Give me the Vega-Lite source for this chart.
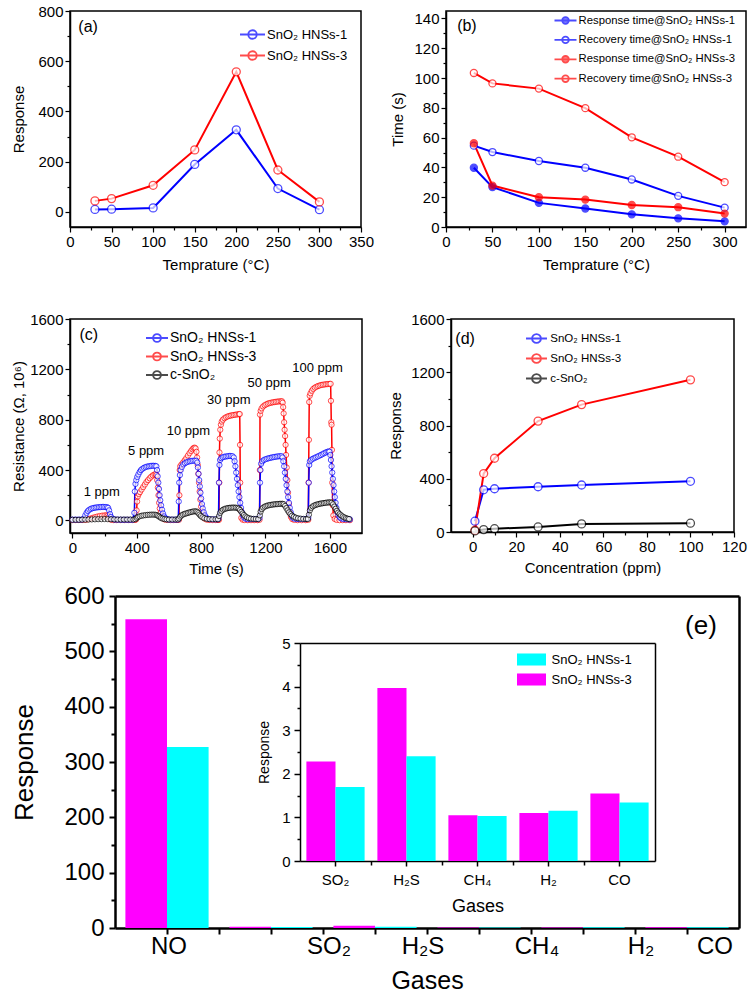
{
"$schema": "https://vega.github.io/schema/vega-lite/v6.json",
"padding": {"left": 10, "top": 3, "right": 0, "bottom": 0},
"config": {
 "font": "Liberation Sans",
 "numberFormat": "d",
 "view": {"stroke": "#000", "strokeWidth": 1.5},
 "axis": {"grid": false, "domainColor": "#000", "domainWidth": 1.5, "tickColor": "#000", "tickWidth": 1.2, "tickSize": 5, "labelColor": "#000", "labelFontSize": 15, "labelPadding": 2, "labelFlush": false, "labelOverlap": false, "titleColor": "#000", "titleFontSize": 15, "titleFontWeight": "normal"},
 "legend": {"labelColor": "#000", "padding": 0, "labelLimit": 400},
 "text": {"color": "#000"}
},
"datasets": {
 "gas": [
  {"gas":"NO","series":"SnO₂ HNSs-3","response":558},{"gas":"NO","series":"SnO₂ HNSs-1","response":327},
  {"gas":"SO₂","series":"SnO₂ HNSs-3","response":2.28},{"gas":"SO₂","series":"SnO₂ HNSs-1","response":1.7},
  {"gas":"H₂S","series":"SnO₂ HNSs-3","response":3.97},{"gas":"H₂S","series":"SnO₂ HNSs-1","response":2.4},
  {"gas":"CH₄","series":"SnO₂ HNSs-3","response":1.05},{"gas":"CH₄","series":"SnO₂ HNSs-1","response":1.03},
  {"gas":"H₂","series":"SnO₂ HNSs-3","response":1.1},{"gas":"H₂","series":"SnO₂ HNSs-1","response":1.15},
  {"gas":"CO","series":"SnO₂ HNSs-3","response":1.55},{"gas":"CO","series":"SnO₂ HNSs-1","response":1.34}
 ]
},
"spacing": 7,
"align": "none",
"resolve": {"scale": {"stroke": "independent", "fill": "independent", "color": "independent"}, "legend": {"stroke": "independent", "fill": "independent", "color": "independent"}},
"vconcat": [
 {"spacing": 38,
  "align": "none",
  "resolve": {"scale": {"stroke": "independent", "fill": "independent", "color": "independent"}, "legend": {"stroke": "independent", "fill": "independent", "color": "independent"}},
  "vconcat": [
  {"spacing": 15,
   "align": "none",
   "resolve": {"scale": {"stroke": "independent", "fill": "independent", "color": "independent"}, "legend": {"stroke": "independent", "fill": "independent", "color": "independent"}},
   "hconcat": [
   {
    "width": 291, "height": 216,
    "data": {"values": [
     {"series":"SnO₂ HNSs-1","temp":30,"response":10},{"series":"SnO₂ HNSs-1","temp":50,"response":11},{"series":"SnO₂ HNSs-1","temp":100,"response":16},{"series":"SnO₂ HNSs-1","temp":150,"response":189},{"series":"SnO₂ HNSs-1","temp":200,"response":327},{"series":"SnO₂ HNSs-1","temp":250,"response":93},{"series":"SnO₂ HNSs-1","temp":300,"response":9},
     {"series":"SnO₂ HNSs-3","temp":30,"response":44},{"series":"SnO₂ HNSs-3","temp":50,"response":53},{"series":"SnO₂ HNSs-3","temp":100,"response":106},{"series":"SnO₂ HNSs-3","temp":150,"response":247},{"series":"SnO₂ HNSs-3","temp":200,"response":558},{"series":"SnO₂ HNSs-3","temp":250,"response":167},{"series":"SnO₂ HNSs-3","temp":300,"response":40}
    ]},
    "layer": [
     {"encoding": {
       "x": {"field":"temp","type":"quantitative","scale":{"domain":[0,350],"nice":false,"zero":false},"axis":{"values":[0,50,100,150,200,250,300,350],"title":"Temprature (°C)","titlePadding":8}},
       "y": {"field":"response","type":"quantitative","scale":{"domain":[-60,800],"nice":false,"zero":false},"axis":{"values":[0,200,400,600,800],"title":"Response","titlePadding":11}}
      },
      "layer": [
       {"mark":{"type":"line","strokeWidth":2},"encoding":{"stroke":{"field":"series","type":"nominal","scale":{"domain":["SnO₂ HNSs-1","SnO₂ HNSs-3"],"range":["#0000ff","#ff0000"]},"legend":{"title":null,"orient":"none","legendX":175,"legendY":16,"symbolType":"M-2,0H2M-0.68,0A0.68,0.68 0 1,0 0.68,0A0.68,0.68 0 1,0 -0.68,0","symbolSize":156,"symbolStrokeWidth":1.8,"symbolFillColor":"#fff","labelFontSize":13,"labelOffset":7,"rowPadding":4}}}},
       {"mark":{"type":"point","shape":"circle","filled":true,"fill":"#fff","size":64,"strokeWidth":1.3},"encoding":{"stroke":{"field":"series","type":"nominal"}}},
       {"data":{"values":[{"label":"(a)","temp":10,"response":735}]},"mark":{"type":"text","align":"left","baseline":"middle","fontSize":16},"encoding":{"text":{"field":"label","type":"nominal"}}}
      ]},
     {"data":{"values":[{"mx":0,"my":0}]},"mark":{"type":"point","opacity":0},"encoding":{
       "x":{"field":"mx","type":"quantitative","scale":{"domain":[0,350],"nice":false,"zero":false},"axis":{"orient":"bottom","values":[25,75,125,175,225,275,325],"labels":false,"domain":false,"title":null,"tickSize":3}},
       "y":{"field":"my","type":"quantitative","scale":{"domain":[-60,800],"nice":false,"zero":false},"axis":{"orient":"left","values":[100,300,500,700],"labels":false,"domain":false,"title":null,"tickSize":3}}
     }}
    ],
    "resolve": {"scale": {"x": "independent", "y": "independent"}}
   },
   {
    "width": 300, "height": 216,
    "data": {"values": [
     {"series":"Response time@SnO₂ HNSs-1","temp":30,"time":39.8},{"series":"Response time@SnO₂ HNSs-1","temp":50,"time":26.8},{"series":"Response time@SnO₂ HNSs-1","temp":100,"time":16.2},{"series":"Response time@SnO₂ HNSs-1","temp":150,"time":12.4},{"series":"Response time@SnO₂ HNSs-1","temp":200,"time":8.5},{"series":"Response time@SnO₂ HNSs-1","temp":250,"time":5.8},{"series":"Response time@SnO₂ HNSs-1","temp":300,"time":3.8},
     {"series":"Recovery time@SnO₂ HNSs-1","temp":30,"time":54.6},{"series":"Recovery time@SnO₂ HNSs-1","temp":50,"time":50.3},{"series":"Recovery time@SnO₂ HNSs-1","temp":100,"time":44.3},{"series":"Recovery time@SnO₂ HNSs-1","temp":150,"time":39.8},{"series":"Recovery time@SnO₂ HNSs-1","temp":200,"time":31.9},{"series":"Recovery time@SnO₂ HNSs-1","temp":250,"time":20.9},{"series":"Recovery time@SnO₂ HNSs-1","temp":300,"time":13},
     {"series":"Response time@SnO₂ HNSs-3","temp":30,"time":56.2},{"series":"Response time@SnO₂ HNSs-3","temp":50,"time":27.8},{"series":"Response time@SnO₂ HNSs-3","temp":100,"time":20},{"series":"Response time@SnO₂ HNSs-3","temp":150,"time":18.4},{"series":"Response time@SnO₂ HNSs-3","temp":200,"time":14.8},{"series":"Response time@SnO₂ HNSs-3","temp":250,"time":13.3},{"series":"Response time@SnO₂ HNSs-3","temp":300,"time":9},
     {"series":"Recovery time@SnO₂ HNSs-3","temp":30,"time":103.4},{"series":"Recovery time@SnO₂ HNSs-3","temp":50,"time":96.4},{"series":"Recovery time@SnO₂ HNSs-3","temp":100,"time":92.9},{"series":"Recovery time@SnO₂ HNSs-3","temp":150,"time":79.8},{"series":"Recovery time@SnO₂ HNSs-3","temp":200,"time":60.2},{"series":"Recovery time@SnO₂ HNSs-3","temp":250,"time":47.2},{"series":"Recovery time@SnO₂ HNSs-3","temp":300,"time":30.1}
    ]},
    "layer": [
     {"encoding": {
       "x": {"field":"temp","type":"quantitative","scale":{"domain":[0,323],"nice":false,"zero":false},"axis":{"values":[0,50,100,150,200,250,300],"title":"Temprature (°C)","titlePadding":8}},
       "y": {"field":"time","type":"quantitative","scale":{"domain":[0,145],"nice":false},"axis":{"values":[0,20,40,60,80,100,120,140],"title":"Time (s)","titlePadding":8}}
      },
      "layer": [
       {"mark":{"type":"line","strokeWidth":2},"encoding":{"stroke":{"field":"series","type":"nominal","scale":{"domain":["Response time@SnO₂ HNSs-1","Recovery time@SnO₂ HNSs-1","Response time@SnO₂ HNSs-3","Recovery time@SnO₂ HNSs-3"],"range":["#0000ff","#0000ff","#ff0000","#ff0000"]},"legend":{"title":null,"orient":"none","legendX":113,"legendY":3,"symbolType":"M-2,0H2M-0.6,0A0.6,0.6 0 1,0 0.6,0A0.6,0.6 0 1,0 -0.6,0","symbolSize":121,"symbolStrokeWidth":1.8,"labelFontSize":11.3,"labelOffset":6.6,"rowPadding":4.4,"labelLimit":400}}}},
       {"mark":{"type":"point","shape":"circle","filled":true,"size":50,"strokeWidth":1.3},"encoding":{"stroke":{"field":"series","type":"nominal"},"fill":{"field":"series","type":"nominal","scale":{"domain":["Response time@SnO₂ HNSs-1","Recovery time@SnO₂ HNSs-1","Response time@SnO₂ HNSs-3","Recovery time@SnO₂ HNSs-3"],"range":["#0000ff","#ffffff","#ff0000","#ffffff"]}}}},
       {"data":{"values":[{"label":"(b)","temp":12,"time":135}]},"mark":{"type":"text","align":"left","baseline":"middle","fontSize":16},"encoding":{"text":{"field":"label","type":"nominal"}}}
      ]},
     {"data":{"values":[{"mx":0,"my":0}]},"mark":{"type":"point","opacity":0},"encoding":{
       "x":{"field":"mx","type":"quantitative","scale":{"domain":[0,323],"nice":false,"zero":false},"axis":{"orient":"bottom","values":[25,75,125,175,225,275],"labels":false,"domain":false,"title":null,"tickSize":3}},
       "y":{"field":"my","type":"quantitative","scale":{"domain":[0,145],"nice":false,"zero":false},"axis":{"orient":"left","values":[10,30,50,70,90,110,130],"labels":false,"domain":false,"title":null,"tickSize":3}}
     }}
    ],
    "resolve": {"scale": {"x": "independent", "y": "independent"}}
   }
  ]},
  {"spacing": 24,
   "align": "none",
   "resolve": {"scale": {"stroke": "independent", "fill": "independent", "color": "independent"}, "legend": {"stroke": "independent", "fill": "independent", "color": "independent"}},
   "hconcat": [
   {
    "width": 292, "height": 214,
    "data": {"values": [
{"s":"3","t":0,"r":3},{"s":"3","t":20,"r":3},{"s":"3","t":40,"r":3},{"s":"3","t":60,"r":3},{"s":"3","t":80,"r":4},{"s":"3","t":95,"r":8},{"s":"3","t":110,"r":14},{"s":"3","t":125,"r":20},{"s":"3","t":140,"r":26},{"s":"3","t":155,"r":31},{"s":"3","t":170,"r":35},{"s":"3","t":185,"r":38},{"s":"3","t":200,"r":40},{"s":"3","t":212,"r":41},{"s":"3","t":220,"r":38},{"s":"3","t":226,"r":28},{"s":"3","t":232,"r":15},{"s":"3","t":240,"r":6},{"s":"3","t":255,"r":3},{"s":"3","t":275,"r":3},{"s":"3","t":300,"r":3},{"s":"3","t":325,"r":3},{"s":"3","t":350,"r":3},{"s":"3","t":375,"r":3},{"s":"3","t":390,"r":4},
{"s":"3","t":396,"r":8},{"s":"3","t":399,"r":80},{"s":"3","t":402,"r":150},{"s":"3","t":406,"r":190},{"s":"3","t":412,"r":210},{"s":"3","t":420,"r":225},{"s":"3","t":430,"r":245},{"s":"3","t":440,"r":265},{"s":"3","t":450,"r":285},{"s":"3","t":460,"r":305},{"s":"3","t":470,"r":320},{"s":"3","t":480,"r":335},{"s":"3","t":490,"r":348},{"s":"3","t":500,"r":358},{"s":"3","t":510,"r":365},{"s":"3","t":518,"r":368},{"s":"3","t":523,"r":360},{"s":"3","t":527,"r":320},{"s":"3","t":531,"r":260},{"s":"3","t":535,"r":200},{"s":"3","t":539,"r":140},{"s":"3","t":543,"r":95},{"s":"3","t":548,"r":60},{"s":"3","t":555,"r":32},{"s":"3","t":563,"r":16},{"s":"3","t":575,"r":7},{"s":"3","t":590,"r":4},{"s":"3","t":610,"r":3},{"s":"3","t":630,"r":3},{"s":"3","t":650,"r":3},
{"s":"3","t":662,"r":5},{"s":"3","t":665,"r":200},{"s":"3","t":667,"r":400},{"s":"3","t":670,"r":430},{"s":"3","t":678,"r":445},{"s":"3","t":688,"r":460},{"s":"3","t":698,"r":478},{"s":"3","t":708,"r":495},{"s":"3","t":718,"r":515},{"s":"3","t":728,"r":535},{"s":"3","t":738,"r":552},{"s":"3","t":746,"r":565},{"s":"3","t":753,"r":575},{"s":"3","t":760,"r":578},{"s":"3","t":766,"r":572},{"s":"3","t":771,"r":545},{"s":"3","t":775,"r":500},{"s":"3","t":779,"r":440},{"s":"3","t":783,"r":370},{"s":"3","t":787,"r":300},{"s":"3","t":791,"r":230},{"s":"3","t":795,"r":165},{"s":"3","t":800,"r":110},{"s":"3","t":806,"r":65},{"s":"3","t":813,"r":35},{"s":"3","t":822,"r":15},{"s":"3","t":835,"r":6},{"s":"3","t":850,"r":4},{"s":"3","t":870,"r":3},{"s":"3","t":890,"r":3},{"s":"3","t":905,"r":3},
{"s":"3","t":911,"r":5},{"s":"3","t":913,"r":300},{"s":"3","t":914,"r":540},{"s":"3","t":916,"r":650},{"s":"3","t":919,"r":720},{"s":"3","t":923,"r":760},{"s":"3","t":928,"r":785},{"s":"3","t":935,"r":800},{"s":"3","t":945,"r":812},{"s":"3","t":955,"r":820},{"s":"3","t":965,"r":826},{"s":"3","t":975,"r":830},{"s":"3","t":985,"r":833},{"s":"3","t":995,"r":836},{"s":"3","t":1005,"r":838},{"s":"3","t":1015,"r":840},{"s":"3","t":1025,"r":842},{"s":"3","t":1035,"r":844},{"s":"3","t":1040,"r":845},{"s":"3","t":1042,"r":600},{"s":"3","t":1043,"r":300},{"s":"3","t":1045,"r":80},{"s":"3","t":1050,"r":20},{"s":"3","t":1058,"r":6},{"s":"3","t":1070,"r":3},{"s":"3","t":1090,"r":2},{"s":"3","t":1110,"r":2},{"s":"3","t":1130,"r":2},{"s":"3","t":1150,"r":2},
{"s":"3","t":1163,"r":5},{"s":"3","t":1165,"r":400},{"s":"3","t":1166,"r":840},{"s":"3","t":1170,"r":870},{"s":"3","t":1176,"r":890},{"s":"3","t":1185,"r":905},{"s":"3","t":1195,"r":915},{"s":"3","t":1205,"r":922},{"s":"3","t":1215,"r":928},{"s":"3","t":1225,"r":932},{"s":"3","t":1235,"r":935},{"s":"3","t":1245,"r":938},{"s":"3","t":1255,"r":940},{"s":"3","t":1265,"r":942},{"s":"3","t":1275,"r":944},{"s":"3","t":1285,"r":945},{"s":"3","t":1295,"r":946},{"s":"3","t":1303,"r":946},{"s":"3","t":1307,"r":935},{"s":"3","t":1310,"r":900},{"s":"3","t":1313,"r":850},{"s":"3","t":1316,"r":780},{"s":"3","t":1319,"r":720},{"s":"3","t":1322,"r":670},{"s":"3","t":1325,"r":600},{"s":"3","t":1328,"r":520},{"s":"3","t":1332,"r":420},{"s":"3","t":1336,"r":320},{"s":"3","t":1340,"r":220},{"s":"3","t":1345,"r":130},{"s":"3","t":1351,"r":65},{"s":"3","t":1358,"r":28},{"s":"3","t":1367,"r":10},{"s":"3","t":1380,"r":4},{"s":"3","t":1400,"r":2},{"s":"3","t":1425,"r":2},{"s":"3","t":1450,"r":2},
{"s":"3","t":1466,"r":5},{"s":"3","t":1468,"r":300},{"s":"3","t":1470,"r":640},{"s":"3","t":1472,"r":940},{"s":"3","t":1475,"r":990},{"s":"3","t":1480,"r":1010},{"s":"3","t":1488,"r":1030},{"s":"3","t":1497,"r":1045},{"s":"3","t":1507,"r":1055},{"s":"3","t":1517,"r":1062},{"s":"3","t":1527,"r":1068},{"s":"3","t":1537,"r":1072},{"s":"3","t":1547,"r":1076},{"s":"3","t":1557,"r":1078},{"s":"3","t":1567,"r":1080},{"s":"3","t":1577,"r":1082},{"s":"3","t":1587,"r":1083},{"s":"3","t":1597,"r":1084},{"s":"3","t":1605,"r":1085},{"s":"3","t":1607,"r":950},{"s":"3","t":1609,"r":780},{"s":"3","t":1611,"r":760},{"s":"3","t":1613,"r":560},{"s":"3","t":1615,"r":300},{"s":"3","t":1618,"r":120},{"s":"3","t":1622,"r":40},{"s":"3","t":1630,"r":12},{"s":"3","t":1642,"r":4},{"s":"3","t":1660,"r":2},{"s":"3","t":1680,"r":2},{"s":"3","t":1700,"r":2},{"s":"3","t":1725,"r":2},
{"s":"1","t":0,"r":6},{"s":"1","t":15,"r":6},{"s":"1","t":30,"r":6},{"s":"1","t":45,"r":6},{"s":"1","t":60,"r":7},{"s":"1","t":72,"r":15},{"s":"1","t":80,"r":40},{"s":"1","t":88,"r":60},{"s":"1","t":96,"r":75},{"s":"1","t":105,"r":85},{"s":"1","t":115,"r":92},{"s":"1","t":125,"r":97},{"s":"1","t":135,"r":100},{"s":"1","t":145,"r":102},{"s":"1","t":155,"r":104},{"s":"1","t":165,"r":105},{"s":"1","t":175,"r":106},{"s":"1","t":185,"r":107},{"s":"1","t":195,"r":107},{"s":"1","t":205,"r":106},{"s":"1","t":215,"r":105},{"s":"1","t":222,"r":100},{"s":"1","t":228,"r":80},{"s":"1","t":234,"r":50},{"s":"1","t":240,"r":28},{"s":"1","t":248,"r":14},{"s":"1","t":258,"r":8},{"s":"1","t":270,"r":6},{"s":"1","t":285,"r":6},{"s":"1","t":300,"r":5},{"s":"1","t":315,"r":5},{"s":"1","t":330,"r":5},{"s":"1","t":345,"r":5},{"s":"1","t":360,"r":5},{"s":"1","t":375,"r":5},
{"s":"1","t":385,"r":60},{"s":"1","t":388,"r":230},{"s":"1","t":392,"r":290},{"s":"1","t":397,"r":320},{"s":"1","t":403,"r":345},{"s":"1","t":410,"r":365},{"s":"1","t":418,"r":385},{"s":"1","t":426,"r":400},{"s":"1","t":435,"r":410},{"s":"1","t":445,"r":418},{"s":"1","t":455,"r":424},{"s":"1","t":465,"r":428},{"s":"1","t":475,"r":430},{"s":"1","t":485,"r":432},{"s":"1","t":495,"r":434},{"s":"1","t":505,"r":434},{"s":"1","t":515,"r":433},{"s":"1","t":522,"r":430},{"s":"1","t":526,"r":400},{"s":"1","t":530,"r":350},{"s":"1","t":534,"r":300},{"s":"1","t":538,"r":250},{"s":"1","t":542,"r":200},{"s":"1","t":546,"r":160},{"s":"1","t":551,"r":120},{"s":"1","t":557,"r":85},{"s":"1","t":563,"r":55},{"s":"1","t":570,"r":32},{"s":"1","t":578,"r":18},{"s":"1","t":588,"r":10},{"s":"1","t":600,"r":7},{"s":"1","t":615,"r":6},{"s":"1","t":630,"r":6},{"s":"1","t":645,"r":6},
{"s":"1","t":658,"r":8},{"s":"1","t":661,"r":150},{"s":"1","t":664,"r":300},{"s":"1","t":668,"r":360},{"s":"1","t":673,"r":400},{"s":"1","t":680,"r":425},{"s":"1","t":690,"r":445},{"s":"1","t":700,"r":455},{"s":"1","t":710,"r":462},{"s":"1","t":720,"r":467},{"s":"1","t":730,"r":470},{"s":"1","t":740,"r":472},{"s":"1","t":750,"r":474},{"s":"1","t":760,"r":475},{"s":"1","t":770,"r":474},{"s":"1","t":776,"r":460},{"s":"1","t":780,"r":420},{"s":"1","t":784,"r":370},{"s":"1","t":788,"r":320},{"s":"1","t":792,"r":270},{"s":"1","t":796,"r":220},{"s":"1","t":800,"r":175},{"s":"1","t":805,"r":130},{"s":"1","t":810,"r":95},{"s":"1","t":816,"r":65},{"s":"1","t":823,"r":40},{"s":"1","t":832,"r":22},{"s":"1","t":845,"r":12},{"s":"1","t":860,"r":9},{"s":"1","t":880,"r":8},{"s":"1","t":900,"r":8},
{"s":"1","t":908,"r":15},{"s":"1","t":911,"r":300},{"s":"1","t":914,"r":440},{"s":"1","t":918,"r":480},{"s":"1","t":925,"r":495},{"s":"1","t":935,"r":502},{"s":"1","t":945,"r":506},{"s":"1","t":955,"r":508},{"s":"1","t":965,"r":510},{"s":"1","t":975,"r":512},{"s":"1","t":985,"r":512},{"s":"1","t":995,"r":510},{"s":"1","t":1003,"r":500},{"s":"1","t":1008,"r":470},{"s":"1","t":1013,"r":430},{"s":"1","t":1018,"r":380},{"s":"1","t":1023,"r":330},{"s":"1","t":1028,"r":280},{"s":"1","t":1033,"r":230},{"s":"1","t":1038,"r":185},{"s":"1","t":1043,"r":140},{"s":"1","t":1048,"r":100},{"s":"1","t":1054,"r":65},{"s":"1","t":1060,"r":40},{"s":"1","t":1068,"r":22},{"s":"1","t":1078,"r":13},{"s":"1","t":1090,"r":10},{"s":"1","t":1110,"r":10},{"s":"1","t":1130,"r":10},{"s":"1","t":1150,"r":10},
{"s":"1","t":1163,"r":20},{"s":"1","t":1166,"r":300},{"s":"1","t":1169,"r":400},{"s":"1","t":1173,"r":450},{"s":"1","t":1180,"r":470},{"s":"1","t":1190,"r":480},{"s":"1","t":1200,"r":486},{"s":"1","t":1210,"r":490},{"s":"1","t":1220,"r":494},{"s":"1","t":1230,"r":497},{"s":"1","t":1240,"r":500},{"s":"1","t":1250,"r":503},{"s":"1","t":1260,"r":505},{"s":"1","t":1270,"r":507},{"s":"1","t":1280,"r":509},{"s":"1","t":1290,"r":510},{"s":"1","t":1300,"r":510},{"s":"1","t":1306,"r":500},{"s":"1","t":1311,"r":470},{"s":"1","t":1316,"r":430},{"s":"1","t":1321,"r":380},{"s":"1","t":1326,"r":330},{"s":"1","t":1331,"r":280},{"s":"1","t":1336,"r":230},{"s":"1","t":1341,"r":185},{"s":"1","t":1346,"r":140},{"s":"1","t":1351,"r":100},{"s":"1","t":1357,"r":65},{"s":"1","t":1363,"r":40},{"s":"1","t":1370,"r":22},{"s":"1","t":1380,"r":14},{"s":"1","t":1395,"r":11},{"s":"1","t":1410,"r":10},{"s":"1","t":1430,"r":10},{"s":"1","t":1450,"r":10},
{"s":"1","t":1466,"r":20},{"s":"1","t":1469,"r":300},{"s":"1","t":1472,"r":440},{"s":"1","t":1476,"r":470},{"s":"1","t":1485,"r":482},{"s":"1","t":1495,"r":490},{"s":"1","t":1505,"r":496},{"s":"1","t":1515,"r":502},{"s":"1","t":1525,"r":508},{"s":"1","t":1535,"r":514},{"s":"1","t":1545,"r":520},{"s":"1","t":1555,"r":527},{"s":"1","t":1565,"r":534},{"s":"1","t":1575,"r":540},{"s":"1","t":1585,"r":545},{"s":"1","t":1593,"r":548},{"s":"1","t":1598,"r":546},{"s":"1","t":1603,"r":520},{"s":"1","t":1607,"r":480},{"s":"1","t":1611,"r":430},{"s":"1","t":1615,"r":380},{"s":"1","t":1619,"r":330},{"s":"1","t":1623,"r":280},{"s":"1","t":1627,"r":230},{"s":"1","t":1631,"r":185},{"s":"1","t":1636,"r":140},{"s":"1","t":1641,"r":100},{"s":"1","t":1647,"r":65},{"s":"1","t":1654,"r":40},{"s":"1","t":1662,"r":24},{"s":"1","t":1672,"r":15},{"s":"1","t":1685,"r":11},{"s":"1","t":1700,"r":9},{"s":"1","t":1715,"r":8},{"s":"1","t":1725,"r":8},
{"s":"c","t":0,"r":5},{"s":"c","t":20,"r":5},{"s":"c","t":40,"r":5},{"s":"c","t":60,"r":6},{"s":"c","t":80,"r":6},{"s":"c","t":100,"r":7},{"s":"c","t":120,"r":8},{"s":"c","t":140,"r":9},{"s":"c","t":160,"r":10},{"s":"c","t":180,"r":10},{"s":"c","t":200,"r":11},{"s":"c","t":220,"r":10},{"s":"c","t":240,"r":9},{"s":"c","t":260,"r":8},{"s":"c","t":280,"r":7},{"s":"c","t":300,"r":7},{"s":"c","t":320,"r":7},{"s":"c","t":340,"r":7},{"s":"c","t":360,"r":7},{"s":"c","t":380,"r":7},{"s":"c","t":392,"r":10},
{"s":"c","t":400,"r":20},{"s":"c","t":408,"r":28},{"s":"c","t":418,"r":33},{"s":"c","t":430,"r":37},{"s":"c","t":442,"r":40},{"s":"c","t":455,"r":42},{"s":"c","t":468,"r":44},{"s":"c","t":480,"r":45},{"s":"c","t":492,"r":46},{"s":"c","t":504,"r":46},{"s":"c","t":515,"r":45},{"s":"c","t":525,"r":42},{"s":"c","t":533,"r":36},{"s":"c","t":541,"r":28},{"s":"c","t":550,"r":20},{"s":"c","t":560,"r":14},{"s":"c","t":572,"r":10},{"s":"c","t":585,"r":8},{"s":"c","t":600,"r":7},{"s":"c","t":620,"r":7},{"s":"c","t":640,"r":7},{"s":"c","t":655,"r":7},
{"s":"c","t":663,"r":15},{"s":"c","t":670,"r":30},{"s":"c","t":678,"r":40},{"s":"c","t":688,"r":47},{"s":"c","t":698,"r":52},{"s":"c","t":708,"r":56},{"s":"c","t":718,"r":60},{"s":"c","t":728,"r":64},{"s":"c","t":738,"r":67},{"s":"c","t":748,"r":70},{"s":"c","t":758,"r":72},{"s":"c","t":768,"r":72},{"s":"c","t":776,"r":68},{"s":"c","t":783,"r":58},{"s":"c","t":790,"r":46},{"s":"c","t":798,"r":35},{"s":"c","t":808,"r":25},{"s":"c","t":820,"r":17},{"s":"c","t":835,"r":12},{"s":"c","t":852,"r":10},{"s":"c","t":870,"r":9},{"s":"c","t":890,"r":9},{"s":"c","t":905,"r":9},
{"s":"c","t":912,"r":35},{"s":"c","t":918,"r":60},{"s":"c","t":926,"r":75},{"s":"c","t":936,"r":85},{"s":"c","t":946,"r":91},{"s":"c","t":956,"r":95},{"s":"c","t":966,"r":98},{"s":"c","t":976,"r":100},{"s":"c","t":986,"r":101},{"s":"c","t":996,"r":102},{"s":"c","t":1006,"r":102},{"s":"c","t":1016,"r":101},{"s":"c","t":1026,"r":99},{"s":"c","t":1034,"r":93},{"s":"c","t":1042,"r":82},{"s":"c","t":1050,"r":68},{"s":"c","t":1058,"r":55},{"s":"c","t":1066,"r":43},{"s":"c","t":1075,"r":32},{"s":"c","t":1085,"r":24},{"s":"c","t":1097,"r":18},{"s":"c","t":1110,"r":14},{"s":"c","t":1125,"r":12},{"s":"c","t":1140,"r":11},{"s":"c","t":1155,"r":10},
{"s":"c","t":1165,"r":40},{"s":"c","t":1170,"r":70},{"s":"c","t":1177,"r":90},{"s":"c","t":1186,"r":102},{"s":"c","t":1196,"r":110},{"s":"c","t":1206,"r":115},{"s":"c","t":1216,"r":119},{"s":"c","t":1226,"r":122},{"s":"c","t":1236,"r":124},{"s":"c","t":1246,"r":126},{"s":"c","t":1256,"r":128},{"s":"c","t":1266,"r":129},{"s":"c","t":1276,"r":130},{"s":"c","t":1286,"r":131},{"s":"c","t":1296,"r":132},{"s":"c","t":1306,"r":132},{"s":"c","t":1314,"r":128},{"s":"c","t":1322,"r":115},{"s":"c","t":1330,"r":98},{"s":"c","t":1338,"r":80},{"s":"c","t":1346,"r":64},{"s":"c","t":1355,"r":50},{"s":"c","t":1365,"r":38},{"s":"c","t":1376,"r":29},{"s":"c","t":1388,"r":22},{"s":"c","t":1402,"r":17},{"s":"c","t":1418,"r":14},{"s":"c","t":1435,"r":12},{"s":"c","t":1452,"r":11},{"s":"c","t":1463,"r":11},
{"s":"c","t":1470,"r":45},{"s":"c","t":1476,"r":80},{"s":"c","t":1484,"r":100},{"s":"c","t":1494,"r":112},{"s":"c","t":1504,"r":119},{"s":"c","t":1514,"r":124},{"s":"c","t":1524,"r":128},{"s":"c","t":1534,"r":131},{"s":"c","t":1544,"r":134},{"s":"c","t":1554,"r":136},{"s":"c","t":1564,"r":138},{"s":"c","t":1574,"r":140},{"s":"c","t":1584,"r":142},{"s":"c","t":1594,"r":143},{"s":"c","t":1604,"r":144},{"s":"c","t":1612,"r":140},{"s":"c","t":1620,"r":128},{"s":"c","t":1628,"r":110},{"s":"c","t":1636,"r":92},{"s":"c","t":1644,"r":76},{"s":"c","t":1652,"r":62},{"s":"c","t":1661,"r":50},{"s":"c","t":1670,"r":40},{"s":"c","t":1680,"r":31},{"s":"c","t":1690,"r":24},{"s":"c","t":1700,"r":18},{"s":"c","t":1710,"r":14},{"s":"c","t":1720,"r":11}
    ]},
    "layer": [
     {"encoding": {
       "x": {"field":"t","type":"quantitative","scale":{"domain":[-15,1800],"nice":false,"zero":false},"axis":{"values":[0,400,800,1200,1600],"title":"Time (s)","titlePadding":6}},
       "y": {"field":"r","type":"quantitative","scale":{"domain":[-100,1600],"nice":false,"zero":false},"axis":{"values":[0,400,800,1200,1600],"title":"Resistance (Ω, 10⁶)","titlePadding":3}}
      },
      "layer": [
       {"mark":{"type":"line","strokeWidth":1.5},"encoding":{"stroke":{"field":"s","type":"nominal","scale":{"domain":["1","3","c"],"range":["#0000ff","#ff0000","#000000"]},"legend":{"title":null,"orient":"none","legendX":80,"legendY":12,"symbolType":"M-2,0H2M-0.72,0A0.72,0.72 0 1,0 0.72,0A0.72,0.72 0 1,0 -0.72,0","symbolSize":121,"symbolStrokeWidth":1.8,"symbolFillColor":"#fff","labelFontSize":14,"labelOffset":6,"rowPadding":2.5,"labelExpr":"datum.label === '1' ? 'SnO₂ HNSs-1' : datum.label === '3' ? 'SnO₂ HNSs-3' : 'c-SnO₂'"}}}},
       {"mark":{"type":"point","shape":"circle","filled":true,"fill":"#fff","size":28,"strokeWidth":1},"encoding":{"stroke":{"field":"s","type":"nominal"}}},
       {"data":{"values":[{"label":"1 ppm","t":182,"r":229},{"label":"5 ppm","t":458,"r":555},{"label":"10 ppm","t":721,"r":707},{"label":"30 ppm","t":972,"r":954},{"label":"50 ppm","t":1223,"r":1089},{"label":"100 ppm","t":1524,"r":1209}]},"mark":{"type":"text","align":"center","baseline":"middle","fontSize":13},"encoding":{"text":{"field":"label","type":"nominal"}}},
       {"data":{"values":[{"label":"(c)","t":44,"r":1472}]},"mark":{"type":"text","align":"left","baseline":"middle","fontSize":16},"encoding":{"text":{"field":"label","type":"nominal"}}}
      ]},
     {"data":{"values":[{"mx":0,"my":0}]},"mark":{"type":"point","opacity":0},"encoding":{
       "x":{"field":"mx","type":"quantitative","scale":{"domain":[-15,1800],"nice":false,"zero":false},"axis":{"orient":"bottom","values":[200,600,1000,1400],"labels":false,"domain":false,"title":null,"tickSize":3}},
       "y":{"field":"my","type":"quantitative","scale":{"domain":[-100,1600],"nice":false,"zero":false},"axis":{"orient":"left","values":[200,600,1000,1400],"labels":false,"domain":false,"title":null,"tickSize":3}}
     }}
    ],
    "resolve": {"scale": {"x": "independent", "y": "independent"}}
   },
   {
    "width": 283, "height": 213,
    "data": {"values": [
     {"series":"SnO₂ HNSs-1","conc":1,"response":81},{"series":"SnO₂ HNSs-1","conc":5,"response":317},{"series":"SnO₂ HNSs-1","conc":10,"response":325},{"series":"SnO₂ HNSs-1","conc":30,"response":340},{"series":"SnO₂ HNSs-1","conc":50,"response":353},{"series":"SnO₂ HNSs-1","conc":100,"response":381},
     {"series":"SnO₂ HNSs-3","conc":1,"response":13},{"series":"SnO₂ HNSs-3","conc":5,"response":439},{"series":"SnO₂ HNSs-3","conc":10,"response":554},{"series":"SnO₂ HNSs-3","conc":30,"response":833},{"series":"SnO₂ HNSs-3","conc":50,"response":957},{"series":"SnO₂ HNSs-3","conc":100,"response":1143},
     {"series":"c-SnO₂","conc":1,"response":8},{"series":"c-SnO₂","conc":5,"response":18},{"series":"c-SnO₂","conc":10,"response":25},{"series":"c-SnO₂","conc":30,"response":38},{"series":"c-SnO₂","conc":50,"response":61},{"series":"c-SnO₂","conc":100,"response":66}
    ]},
    "layer": [
     {"encoding": {
       "x": {"field":"conc","type":"quantitative","scale":{"domain":[-10,120],"nice":false,"zero":false},"axis":{"values":[0,20,40,60,80,100,120],"title":"Concentration (ppm)","titlePadding":6}},
       "y": {"field":"response","type":"quantitative","scale":{"domain":[0,1600],"nice":false},"axis":{"values":[0,400,800,1200,1600],"title":"Response","titlePadding":7}}
      },
      "layer": [
       {"mark":{"type":"line","strokeWidth":2},"encoding":{"stroke":{"field":"series","type":"nominal","scale":{"domain":["SnO₂ HNSs-1","SnO₂ HNSs-3","c-SnO₂"],"range":["#0000ff","#ff0000","#000000"]},"legend":{"title":null,"orient":"none","legendX":79,"legendY":13,"symbolType":"M-2,0H2M-0.85,0A0.85,0.85 0 1,0 0.85,0A0.85,0.85 0 1,0 -0.85,0","symbolSize":110,"symbolStrokeWidth":1.8,"symbolFillColor":"#fff","labelFontSize":11.5,"labelOffset":7.3,"rowPadding":3}}}},
       {"mark":{"type":"point","shape":"circle","filled":true,"fill":"#fff","size":64,"strokeWidth":1.3},"encoding":{"stroke":{"field":"series","type":"nominal"}}},
       {"data":{"values":[{"label":"(d)","conc":-8,"response":1450}]},"mark":{"type":"text","align":"left","baseline":"middle","fontSize":16},"encoding":{"text":{"field":"label","type":"nominal"}}}
      ]},
     {"data":{"values":[{"mx":0,"my":0}]},"mark":{"type":"point","opacity":0},"encoding":{
       "x":{"field":"mx","type":"quantitative","scale":{"domain":[-10,120],"nice":false,"zero":false},"axis":{"orient":"bottom","values":[10,30,50,70,90,110],"labels":false,"domain":false,"title":null,"tickSize":3}},
       "y":{"field":"my","type":"quantitative","scale":{"domain":[0,1600],"nice":false,"zero":false},"axis":{"orient":"left","values":[200,600,1000,1400],"labels":false,"domain":false,"title":null,"tickSize":3}}
     }}
    ],
    "resolve": {"scale": {"x": "independent", "y": "independent"}}
   }
  ]}
 ]},
 {
  "width": 669, "height": 332,
  "view": {"stroke": null},
  "layer": [
   {"layer": [
    {"data": {"name": "gas"}, "mark": {"type": "bar"}, "encoding": {
     "x": {"field":"gas","type":"nominal","scale":{"domain":["NO","SO₂","H₂S","CH₄","H₂","CO"],"range":[45,669],"paddingInner":0.2,"paddingOuter":0.1},"axis":{"title":"Gases","labelAngle":0,"labelFontSize":24,"titleFontSize":25,"tickSize":6,"tickWidth":2,"domainWidth":2.5,"labelPadding":0,"titlePadding":10,"labelOffset":{"condition":[{"test":"datum.value === 'SO₂'","value":58},{"test":"datum.value === 'H₂S'","value":48},{"test":"datum.value === 'CH₄'","value":58},{"test":"datum.value === 'H₂'","value":58},{"test":"datum.value === 'CO'","value":28}],"value":2}}},
     "xOffset": {"field":"series","type":"nominal","scale":{"domain":["SnO₂ HNSs-3","SnO₂ HNSs-1"]}},
     "y": {"field":"response","type":"quantitative","scale":{"domain":[0,600],"nice":false},"axis":{"offset":-45,"values":[0,100,200,300,400,500,600],"title":"Response","labelFontSize":24,"titleFontSize":26,"tickSize":6,"tickWidth":2,"domainWidth":2.5,"labelPadding":5,"titlePadding":26}},
     "color": {"field":"series","type":"nominal","scale":{"domain":["SnO₂ HNSs-1","SnO₂ HNSs-3"],"range":["#00ffff","#ff00ff"]},"legend":null}
    }},
    {"data": {"values": [{"gas":"CO","response":546,"label":"(e)"}]}, "mark": {"type":"text","fontSize":26,"dx":14,"baseline":"middle"}, "encoding": {"x":{"field":"gas","type":"nominal"},"y":{"field":"response","type":"quantitative"},"text":{"field":"label","type":"nominal"}}}
   ]},
   {"data":{"values":[{"b":0.5,"m":0},{"b":6.5,"m":600}]},"mark":{"type":"point","opacity":0},"encoding":{
     "x":{"field":"b","type":"quantitative","scale":{"domain":[0.5,6.5],"range":[45,669],"nice":false,"zero":false},"axis":{"orient":"bottom","values":[1.5,2.5,3.5,4.5,5.5],"labels":false,"domain":false,"title":null,"tickSize":6,"tickWidth":2}},
     "y":{"field":"m","type":"quantitative","scale":{"domain":[0,600],"nice":false},"axis":{"orient":"left","offset":-45,"values":[50,150,250,350,450,550],"labels":false,"domain":false,"title":null,"tickSize":4,"tickWidth":2}}
   }},
   {"data":{"values":[{"fx":0,"fy":0},{"fx":1,"fy":1}]},"mark":{"type":"point","opacity":0},"encoding":{
     "x":{"field":"fx","type":"quantitative","scale":{"domain":[0,1],"range":[45,669],"nice":false,"zero":false},"axis":{"orient":"top","labels":false,"ticks":false,"title":null,"domainWidth":2.5}},
     "y":{"field":"fy","type":"quantitative","scale":{"domain":[0,1],"nice":false,"zero":false},"axis":{"orient":"right","labels":false,"ticks":false,"title":null,"domainWidth":2.5}}
   }},
   {"data": {"name": "gas"}, "transform": [{"filter": "datum.gas !== 'NO'"}], "mark": {"type": "bar"}, "encoding": {
     "x": {"field":"gas","type":"nominal","scale":{"domain":["SO₂","H₂S","CH₄","H₂","CO"],"range":[230,585],"paddingInner":0.18,"paddingOuter":0.09},"axis":{"orient":"bottom","offset":-67,"title":"Gases","titleFontSize":18,"labelFontSize":15,"labelAngle":0,"tickSize":5,"tickWidth":1.5,"domainWidth":1.5,"labelPadding":6,"titlePadding":10}},
     "xOffset": {"field":"series","type":"nominal","scale":{"domain":["SnO₂ HNSs-3","SnO₂ HNSs-1"]}},
     "y": {"field":"response","type":"quantitative","scale":{"domain":[0,5],"nice":false,"range":[265,47]},"axis":{"orient":"left","offset":-230,"values":[0,1,2,3,4,5],"title":"Response","titleFontSize":14,"labelFontSize":15,"tickSize":6,"tickWidth":1.5,"domainWidth":1.5,"labelPadding":4,"titlePadding":10}},
     "color": {"field":"series","type":"nominal","scale":{"domain":["SnO₂ HNSs-1","SnO₂ HNSs-3"],"range":["#00ffff","#ff00ff"]},"legend":{"title":null,"orient":"none","legendX":454,"legendY":56,"symbolType":"M-2,-0.83H2V0.83H-2Z","symbolSize":210,"symbolStrokeWidth":0,"labelFontSize":13,"labelOffset":12.5,"rowPadding":5}}
   }},
   {"data":{"values":[{"fx":0.5,"fy":0},{"fx":5.5,"fy":5}]},"mark":{"type":"point","opacity":0},"encoding":{
     "x":{"field":"fx","type":"quantitative","scale":{"domain":[0.5,5.5],"range":[230,585],"nice":false,"zero":false},"axis":{"orient":"bottom","offset":-67,"values":[1.5,2.5,3.5,4.5],"labels":false,"domain":false,"title":null,"tickSize":4,"tickWidth":1.5}},
     "y":{"field":"fy","type":"quantitative","scale":{"domain":[0,5],"range":[265,47],"nice":false,"zero":false},"axis":{"orient":"left","offset":-230,"values":[0.5,1.5,2.5,3.5,4.5],"labels":false,"domain":false,"title":null,"tickSize":3,"tickWidth":1.5}}
   }},
   {"data":{"values":[{"fx":0,"fy":0},{"fx":1,"fy":1}]},"mark":{"type":"point","opacity":0},"encoding":{
     "x":{"field":"fx","type":"quantitative","scale":{"domain":[0,1],"range":[230,585],"nice":false,"zero":false},"axis":{"orient":"top","offset":-47,"labels":false,"ticks":false,"title":null,"domainWidth":1.5}},
     "y":{"field":"fy","type":"quantitative","scale":{"domain":[0,1],"range":[265,47],"nice":false,"zero":false},"axis":{"orient":"right","offset":-84,"labels":false,"ticks":false,"title":null,"domainWidth":1.5}}
   }}
  ],
  "resolve": {"scale": {"x": "independent", "y": "independent", "xOffset": "independent", "color": "independent"}}
 }
]
}
